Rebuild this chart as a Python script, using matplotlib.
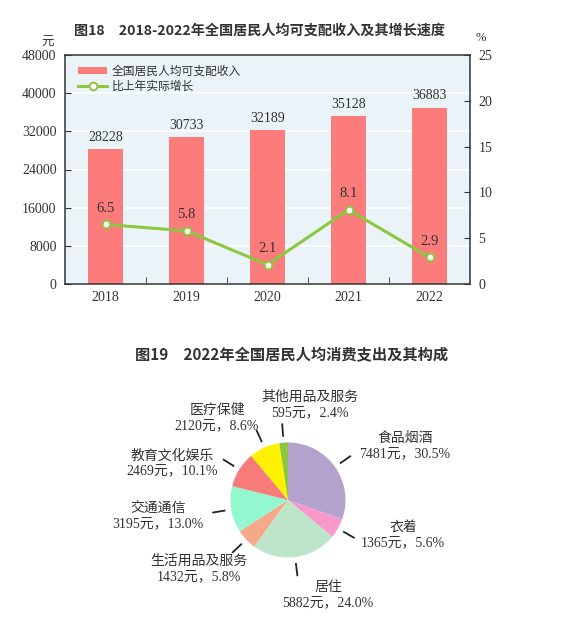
import matplotlib
matplotlib.use('Agg')
import matplotlib.pyplot as plt
import numpy as np

# ---------------- data ----------------
years = ['2018', '2019', '2020', '2021', '2022']
income = [28228, 30733, 32189, 35128, 36883]
growth = [6.5, 5.8, 2.1, 8.1, 2.9]

cats = ['食品烟酒', '衣着', '居住', '生活用品及服务', '交通通信', '教育文化娱乐', '医疗保健', '其他用品及服务']
spend = [7481, 1365, 5882, 1432, 3195, 2469, 2120, 595]
shares = [30.5, 5.6, 24.0, 5.8, 13.0, 10.1, 8.6, 2.4]

title1 = '图18　2018-2022年全国居民人均可支配收入及其增长速度'
title2 = '图19　2022年全国居民人均消费支出及其构成'
series1 = '全国居民人均可支配收入'
series2 = '比上年实际增长'

# ---------------- style ----------------
W, H = 570, 617
CJK = ['Noto Sans CJK SC', 'DejaVu Sans']
SER = ['Liberation Serif', 'Noto Sans CJK SC']
BAR_C = '#fc7b7b'
LINE_C = '#8dc63f'
BG_C = '#eaf4f8'
TXT = '#333333'
pie_colors = ['#b3a2cc', '#f79acb', '#bde6c8', '#f6a88a', '#93f7cf', '#f77b79', '#fff200', '#8dc63f']

plt.rcParams['font.family'] = CJK
fig = plt.figure(figsize=(W / 100, H / 100), dpi=100)

# ---------------- top chart ----------------
ax = fig.add_axes([65 / W, 1 - 284 / H, 405 / W, 229 / H])
ax.set_facecolor(BG_C)
x = np.arange(len(years))
ax.bar(x, income, width=0.43, color=BAR_C, zorder=2, label=series1)
ax.set_xlim(-0.5, len(years) - 0.5)
ax.set_ylim(0, 48000)
ax.set_yticks(np.arange(0, 48001, 8000))
ax.yaxis.grid(True, color='white', lw=1.2)
ax.set_axisbelow(True)
ax.set_xticks(x)
ax.set_xticklabels(years)
ax.set_xticks(np.arange(0.5, len(years) - 0.5), minor=True)
ax.tick_params(axis='x', which='major', length=0, pad=5, labelsize=10, labelcolor=TXT, labelfontfamily=SER)
ax.tick_params(axis='x', which='minor', direction='in', length=5, color=TXT)
ax.tick_params(axis='y', direction='in', length=4, pad=6, labelsize=10, labelcolor=TXT, labelfontfamily=SER, color=TXT)
for s in ax.spines.values():
    s.set_color(TXT)
    s.set_linewidth(1.1)

for xi, v in zip(x, income):
    ax.annotate(f'{v}', (xi, v), xytext=(0, 4), textcoords='offset points',
                ha='center', va='bottom', fontsize=10, color=TXT, family=SER)

ax2 = ax.twinx()
ax2.plot(x, growth, color=LINE_C, lw=2.2, marker='o', mfc='white', mec=LINE_C,
         ms=5.5, mew=1.4, label=series2, zorder=3)
ax2.set_ylim(0, 25)
ax2.set_yticks(np.arange(0, 26, 5))
ax2.tick_params(axis='y', direction='in', length=4, pad=6, labelsize=10, labelcolor=TXT, labelfontfamily=SER, color=TXT)
for s in ax2.spines.values():
    s.set_visible(False)
for xi, v in zip(x, growth):
    ax2.annotate(f'{v}', (xi, v), xytext=(0, 7), textcoords='offset points',
                 ha='center', va='bottom', fontsize=10.5, color=TXT, family=SER)

h1, l1 = ax.get_legend_handles_labels()
h2, l2 = ax2.get_legend_handles_labels()
leg = ax.legend(h1 + h2, l1 + l2, loc='upper left', bbox_to_anchor=(0.02, 0.975), frameon=False,
                fontsize=8.5, handlelength=2.5, handleheight=0.6, handletextpad=0.4, labelspacing=0.3,
                borderaxespad=0)
for t in leg.get_texts():
    t.set_color(TXT)
    t.set_family(SER)

fig.text(259 / W, 1 - 31 / H, title1, ha='center', va='center', fontsize=10.2,
         fontweight='bold', color=TXT, family=CJK)
fig.text(48 / W, 1 - 42 / H, '元', ha='center', va='center', fontsize=9, color=TXT, family=CJK)
fig.text(481 / W, 1 - 38 / H, '%', ha='center', va='center', fontsize=9, color=TXT, family=SER)

# ---------------- pie chart ----------------
pax = fig.add_axes([0, 0, 1, 1])
pax.patch.set_visible(False)
pcx, pcy, pr = 288, H - 500, 57.5
wedges, _ = pax.pie(spend, colors=pie_colors, startangle=90, counterclock=False,
                    center=(pcx, pcy), radius=pr, wedgeprops=dict(linewidth=0))
pax.set_xlim(0, W)
pax.set_ylim(0, H)
pax.set_aspect('auto')
pax.axis('off')

label_pos = [(405, 446), (403, 535), (328, 595), (199, 569),
             (158, 516), (172, 463), (217, 418), (310, 405)]
for w, c, v, sh, (lx, ly) in zip(wedges, cats, spend, shares, label_pos):
    th = np.deg2rad((w.theta1 + w.theta2) / 2)
    r1, r2 = pr * 1.12, pr * 1.32
    pax.plot([pcx + r1 * np.cos(th), pcx + r2 * np.cos(th)],
             [pcy + r1 * np.sin(th), pcy + r2 * np.sin(th)], color='#222222', lw=1.3)
    pax.text(lx, H - ly, f'{c}\n{v}元，{sh:.1f}%', ha='center', va='center',
             fontsize=10, color=TXT, family=SER, linespacing=1.2)

fig.text(292 / W, 1 - 355 / H, title2, ha='center', va='center', fontsize=11,
         fontweight='bold', color=TXT, family=CJK)

fig.savefig('out.png', dpi=100)
